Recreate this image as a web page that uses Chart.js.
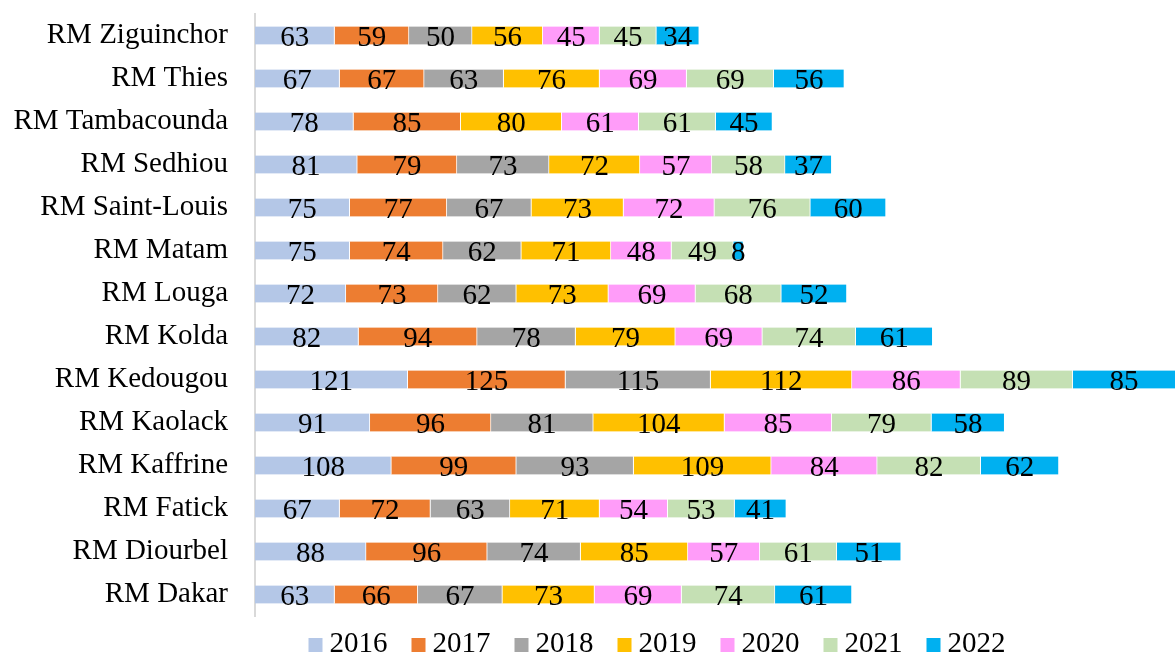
<!DOCTYPE html>
<html lang="fr">
<head>
  <meta charset="UTF-8">
  <title>RM par année</title>
  <script src="https://cdn.jsdelivr.net/npm/chart.js"></script>
  <style>
    body {
      margin: 0;
      padding: 0;
      background-color: #fff;
    }

    #chart-container {
      width: 1175px;
      height: 654px;
    }
  </style>
</head>
<body>
  <div id="chart-container">
    <canvas id="rmChart"></canvas>
  </div>

  <script>
    // Regions, top to bottom as shown
    const regions = ['RM Ziguinchor', 'RM Thies', 'RM Tambacounda', 'RM Sedhiou', 'RM Saint-Louis',
      'RM Matam', 'RM Louga', 'RM Kolda', 'RM Kedougou', 'RM Kaolack', 'RM Kaffrine',
      'RM Fatick', 'RM Diourbel', 'RM Dakar'];

    const years = ['2016', '2017', '2018', '2019', '2020', '2021', '2022'];

    const v2016 = [63, 67, 78, 81, 75, 75, 72, 82, 121, 91, 108, 67, 88, 63];
    const v2017 = [59, 67, 85, 79, 77, 74, 73, 94, 125, 96, 99, 72, 96, 66];
    const v2018 = [50, 63, null, 73, 67, 62, 62, 78, 115, 81, 93, 63, 74, 67];
    const v2019 = [56, 76, 80, 72, 73, 71, 73, 79, 112, 104, 109, 71, 85, 73];
    const v2020 = [45, 69, 61, 57, 72, 48, 69, 69, 86, 85, 84, 54, 57, 69];
    const v2021 = [45, 69, 61, 58, 76, 49, 68, 74, 89, 79, 82, 53, 61, 74];
    const v2022 = [34, 56, 45, 37, 60, 8, 52, 61, 85, 58, 62, 41, 51, 61];

    const colors = ['#B4C7E7', '#ED7D31', '#A5A5A5', '#FFC000', '#FF9CF9', '#C5E0B4', '#00B0F0'];
    const FONT = "'Times New Roman', 'Liberation Serif', serif";

    const seriesValues = [v2016, v2017, v2018, v2019, v2020, v2021, v2022];

    // Numbers in the middle of each segment
    const segmentLabels = {
      id: 'segmentLabels',
      afterDatasetsDraw(chart) {
        const c = chart.ctx;
        c.save();
        c.font = '29px ' + FONT;
        c.fillStyle = '#000';
        c.textAlign = 'center';
        c.textBaseline = 'middle';
        chart.data.datasets.forEach((ds, i) => {
          chart.getDatasetMeta(i).data.forEach((bar, j) => {
            const val = ds.data[j];
            if (val === null) return;
            const right = Math.min(bar.x, chart.chartArea.right);
            const mid = (right + bar.base) / 2;
            c.fillText(String(val), mid, bar.y + 3);
          });
        });
        c.restore();
      }
    };

    // Legend drawn under the plot
    const bottomLegend = {
      id: 'bottomLegend',
      afterDraw(chart) {
        const c = chart.ctx;
        c.save();
        c.font = '29px ' + FONT;
        c.textBaseline = 'alphabetic';
        c.textAlign = 'left';
        const box = 14, gapText = 7, gapItem = 24;
        const items = chart.data.datasets.map(ds => ({
          label: ds.label,
          color: ds.backgroundColor,
          w: c.measureText(ds.label).width
        }));
        const total = items.reduce((s, it) => s + box + gapText + it.w, 0) + gapItem * (items.length - 1);
        let x = 657 - total / 2;
        const baseY = 652;
        items.forEach(it => {
          c.fillStyle = it.color;
          c.fillRect(x, 638, box, box);
          c.fillStyle = '#000';
          c.fillText(it.label, x + box + gapText, baseY);
          x += box + gapText + it.w + gapItem;
        });
        c.restore();
      }
    };

    const ctx = document.getElementById('rmChart').getContext('2d');
    const chart = new Chart(ctx, {
      type: 'bar',
      data: {
        labels: regions,
        datasets: years.map((y, i) => ({
          label: y,
          data: seriesValues[i],
          backgroundColor: colors[i],
          borderColor: '#fff',
          borderWidth: { left: 0, top: 0, bottom: 0, right: 1 },
          borderSkipped: false,
          barThickness: 18
        }))
      },
      options: {
        indexAxis: 'y',
        responsive: true,
        maintainAspectRatio: false,
        animation: false,
        layout: {
          padding: { top: 14, bottom: 38, left: 0, right: 0 }
        },
        plugins: {
          legend: { display: false },
          tooltip: { enabled: false }
        },
        scales: {
          x: {
            stacked: true,
            display: false,
            min: 0,
            max: 729
          },
          y: {
            stacked: true,
            afterFit: (scale) => {
              scale.width = 255;
              scale.paddingTop = 0;
              scale.paddingBottom = 0;
            },
            grid: { display: false, drawTicks: false },
            border: { display: true, color: '#D9D9D9', width: 2 },
            ticks: {
              padding: 27,
              color: '#000',
              font: { family: FONT, size: 29 }
            }
          }
        }
      },
      plugins: [segmentLabels, bottomLegend]
    });
  </script>
</body>
</html>
